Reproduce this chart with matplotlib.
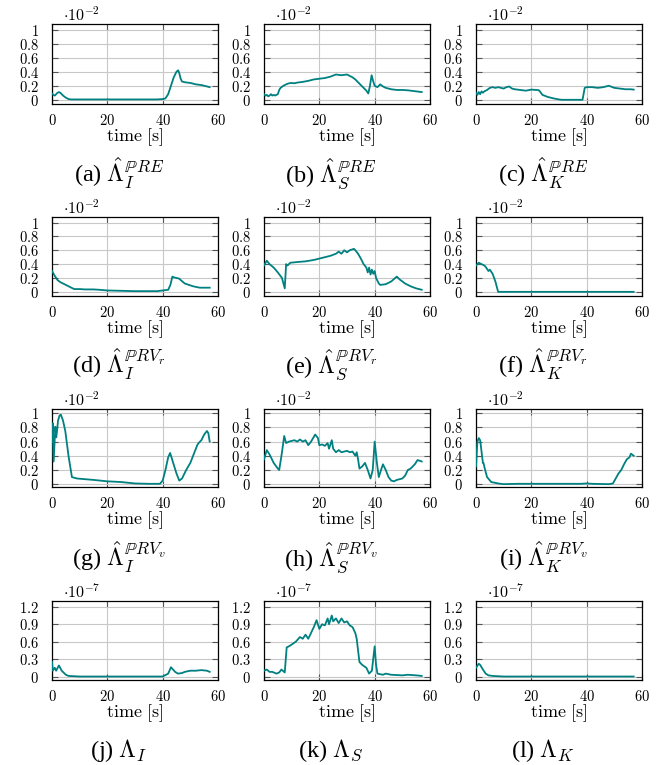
import matplotlib
matplotlib.use('Agg')
import matplotlib.pyplot as plt
from matplotlib.ticker import FixedLocator, FixedFormatter
from matplotlib.transforms import offset_copy

plt.rcParams['mathtext.fontset'] = 'cm'
plt.rcParams['font.family'] = ['Liberation Serif', 'DejaVu Serif']

# ---------------- data ----------------
xticks = [0, 20, 40, 60]
xtick_labels = ['0', '20', '40', '60']
yticks_hat = [0, 0.2, 0.4, 0.6, 0.8, 1.0]
ytick_labels_hat = ['0', '0.2', '0.4', '0.6', '0.8', '1']
yticks_lam = [0, 0.3, 0.6, 0.9, 1.2]
ytick_labels_lam = ['0', '0.3', '0.6', '0.9', '1.2']

captions = [
    r'(a) $\hat{\Lambda}_I^{\mathbb{P}RE}$',
    r'(b) $\hat{\Lambda}_S^{\mathbb{P}RE}$',
    r'(c) $\hat{\Lambda}_K^{\mathbb{P}RE}$',
    r'(d) $\hat{\Lambda}_I^{\mathbb{P}RV_r}$',
    r'(e) $\hat{\Lambda}_S^{\mathbb{P}RV_r}$',
    r'(f) $\hat{\Lambda}_K^{\mathbb{P}RV_r}$',
    r'(g) $\hat{\Lambda}_I^{\mathbb{P}RV_v}$',
    r'(h) $\hat{\Lambda}_S^{\mathbb{P}RV_v}$',
    r'(i) $\hat{\Lambda}_K^{\mathbb{P}RV_v}$',
    r'(j) $\Lambda_I$',
    r'(k) $\Lambda_S$',
    r'(l) $\Lambda_K$',
]
exponents = ['-2', '-2', '-2', '-2', '-2', '-2', '-2', '-2', '-2', '-7', '-7', '-7']

t_a = [0, 0.5, 1, 1.5, 2, 2.5, 3, 3.5, 4, 5, 6, 7, 10, 20, 30, 38, 40, 41, 42, 43, 44, 45, 45.6, 46, 46.5, 47, 48, 50, 52, 54, 55, 56, 57]
y_a = [0.09, 0.07, 0.06, 0.08, 0.1, 0.11, 0.1, 0.08, 0.06, 0.03, 0.01, 0.005, 0.005, 0.005, 0.005, 0.005, 0.01, 0.02, 0.08, 0.2, 0.32, 0.4, 0.42, 0.38, 0.3, 0.26, 0.25, 0.24, 0.22, 0.21, 0.2, 0.19, 0.18]

t_b = [0, 0.5, 1, 1.5, 2, 2.5, 3, 3.5, 4, 4.5, 5, 5.5, 6, 7, 8, 9, 10, 11, 12, 13, 14, 16, 18, 20, 22, 24, 26, 27, 28, 29, 30, 31, 32, 33, 34, 35, 36, 37, 37.7, 38.3, 38.9, 39.5, 40, 41, 42, 43, 44, 46, 48, 50, 52, 54, 56, 57]
y_b = [0.08, 0.06, 0.07, 0.05, 0.06, 0.08, 0.06, 0.07, 0.06, 0.07, 0.08, 0.14, 0.17, 0.2, 0.22, 0.235, 0.24, 0.235, 0.245, 0.25, 0.255, 0.27, 0.29, 0.3, 0.31, 0.33, 0.36, 0.355, 0.35, 0.355, 0.36, 0.34, 0.32, 0.29, 0.25, 0.21, 0.17, 0.13, 0.09, 0.2, 0.35, 0.26, 0.2, 0.18, 0.22, 0.19, 0.17, 0.15, 0.14, 0.14, 0.135, 0.125, 0.115, 0.11]

t_c = [0, 0.5, 1, 1.5, 2, 2.5, 3, 4, 5, 6, 7, 8, 9, 10, 11, 12, 13, 14, 16, 18, 20, 22, 22.8, 24, 26, 28, 30, 31, 34, 36, 38.5, 39.3, 40, 41, 42, 44, 46, 48, 50, 52, 54, 56, 57]
y_c = [0.1, 0.07, 0.11, 0.08, 0.12, 0.1, 0.12, 0.14, 0.17, 0.18, 0.17, 0.18, 0.17, 0.16, 0.18, 0.19, 0.16, 0.15, 0.14, 0.13, 0.145, 0.14, 0.135, 0.07, 0.04, 0.02, 0.005, 0.0, 0.0, 0.0, 0.0, 0.17, 0.18, 0.18, 0.18, 0.17, 0.18, 0.2, 0.17, 0.16, 0.15, 0.15, 0.145]

t_d = [0, 0.3, 1, 2, 3, 4, 5, 6, 7, 8, 10, 12, 15, 17, 20, 25, 30, 35, 38, 40, 41, 42, 42.8, 43.5, 44, 45, 46, 46.8, 48, 51, 53.4, 56.4, 57]
y_d = [0.3, 0.28, 0.23, 0.17, 0.14, 0.12, 0.1, 0.08, 0.06, 0.04, 0.04, 0.035, 0.035, 0.03, 0.02, 0.015, 0.01, 0.01, 0.01, 0.02, 0.025, 0.03, 0.1, 0.22, 0.21, 0.2, 0.19, 0.16, 0.12, 0.08, 0.06, 0.06, 0.06]

t_e = [0, 1, 2, 3.5, 5, 6.5, 7.5, 8, 8.5, 9.5, 12, 15, 18, 20, 22, 24, 26, 27, 28, 29, 30, 31, 32.5, 33, 34, 35, 36, 37, 37.5, 38, 38.5, 39, 39.5, 40, 40.5, 41.5, 42, 44, 46, 48, 49, 51, 53, 55, 57]
y_e = [0.38, 0.45, 0.4, 0.35, 0.28, 0.2, 0.05, 0.4, 0.38, 0.42, 0.43, 0.44, 0.46, 0.48, 0.5, 0.52, 0.55, 0.58, 0.55, 0.6, 0.57, 0.6, 0.62, 0.6, 0.55, 0.48, 0.4, 0.35, 0.28, 0.35, 0.25, 0.32, 0.26, 0.3, 0.2, 0.12, 0.1, 0.11, 0.15, 0.22, 0.18, 0.12, 0.08, 0.05, 0.03]

t_f = [0, 1, 2, 3, 3.5, 4.5, 5, 6, 7, 8, 20, 40, 57]
y_f = [0.38, 0.42, 0.4, 0.38, 0.36, 0.3, 0.32, 0.26, 0.15, 0.0, 0.0, 0.0, 0.0]

t_g = [0, 0.24, 0.6, 1.2, 1.56, 2.2, 2.76, 3.2, 3.96, 4.8, 6, 7.2, 9, 15, 20, 25, 30, 35, 39, 40, 41, 42, 42.7, 43.8, 45, 46, 47, 48.5, 50, 51.5, 52.5, 53, 54, 55, 56, 56.5, 57]
y_g = [0.6, 0.86, 0.32, 0.81, 0.66, 0.9, 0.97, 0.98, 0.9, 0.75, 0.39, 0.1, 0.08, 0.06, 0.04, 0.03, 0.01, 0.005, 0.005, 0.05, 0.2, 0.38, 0.44, 0.3, 0.15, 0.05, 0.08, 0.2, 0.3, 0.45, 0.55, 0.58, 0.62, 0.7, 0.75, 0.72, 0.6]

t_h = [0, 1, 2, 3.5, 5, 5.5, 6.5, 7.3, 8, 9, 11, 12, 13, 14, 15, 16, 17, 18.5, 19.5, 20, 21, 22, 23, 23.5, 24.5, 25, 26, 27, 28, 30, 31, 32, 33, 33.5, 34, 34.5, 35.5, 36.5, 37.5, 38.5, 39.3, 40, 40.8, 41.5, 42.3, 43, 44, 45, 46, 47, 48, 50, 51, 52, 53, 54.5, 55.5, 57]
y_h = [0.35, 0.48, 0.42, 0.3, 0.22, 0.2, 0.45, 0.68, 0.58, 0.6, 0.62, 0.6, 0.63, 0.6, 0.62, 0.55, 0.6, 0.7, 0.65, 0.55, 0.56, 0.54, 0.58, 0.5, 0.62, 0.5, 0.45, 0.48, 0.45, 0.47, 0.45, 0.46, 0.4, 0.45, 0.35, 0.22, 0.25, 0.3, 0.2, 0.08, 0.2, 0.6, 0.3, 0.1, 0.2, 0.28, 0.2, 0.1, 0.05, 0.04, 0.06, 0.08, 0.12, 0.2, 0.22, 0.28, 0.34, 0.32]

t_i = [0, 0.5, 1, 1.5, 2.5, 2.7, 3.3, 4, 5.5, 8, 10, 15, 25, 38, 40, 42, 48, 49.5, 50.5, 51.5, 52.5, 53.5, 54.5, 55.5, 56, 57]
y_i = [0.25, 0.6, 0.65, 0.62, 0.3, 0.3, 0.2, 0.1, 0.03, 0.01, 0.0, 0.005, 0.005, 0.005, 0.01, 0.005, 0.0, 0.01, 0.08, 0.15, 0.2, 0.28, 0.35, 0.38, 0.43, 0.4]

t_j = [0, 0.3, 1, 1.5, 2.5, 3.5, 5, 6, 10, 20, 30, 40, 42, 43, 44.5, 45.5, 47, 48, 50, 52, 54, 56, 57]
y_j = [0.25, 0.1, 0.15, 0.1, 0.19, 0.1, 0.03, 0.01, 0.0, 0.0, 0.0, 0.0, 0.05, 0.16, 0.08, 0.05, 0.06, 0.08, 0.1, 0.1, 0.11, 0.1, 0.08]

t_k = [0, 1, 2, 3, 4.5, 5.5, 6.3, 7.5, 8.2, 9, 10, 11.5, 13, 14, 15, 16, 17, 18, 19, 20, 21, 22, 23, 23.5, 24.5, 25, 26, 27, 28, 29, 30, 31, 32, 33, 33.5, 34, 34.5, 35.5, 37, 38, 39, 40, 40.5, 41, 43, 44, 46, 50, 52, 55, 57]
y_k = [0.1, 0.12, 0.08, 0.08, 0.05, 0.07, 0.12, 0.07, 0.5, 0.52, 0.55, 0.6, 0.68, 0.65, 0.72, 0.65, 0.75, 0.85, 0.97, 0.82, 0.9, 0.88, 1.0, 0.9, 1.05, 0.95, 1.0, 0.92, 1.0, 0.93, 0.95, 0.88, 0.85, 0.75, 0.65, 0.45, 0.25, 0.2, 0.15, 0.05, 0.1, 0.52, 0.2, 0.05, 0.03, 0.05, 0.03, 0.02, 0.03, 0.02, 0.01]

t_l = [0, 1, 1.5, 2.5, 3.5, 4.5, 6, 10, 30, 57]
y_l = [0.15, 0.22, 0.2, 0.12, 0.05, 0.02, 0.01, 0.0, 0.0, 0.0]

series = [(t_a, y_a), (t_b, y_b), (t_c, y_c), (t_d, y_d), (t_e, y_e), (t_f, y_f),
          (t_g, y_g), (t_h, y_h), (t_i, y_i), (t_j, y_j), (t_k, y_k), (t_l, y_l)]

# ---------------- layout ----------------
W, H = 665, 765
fig = plt.figure(figsize=(W / 100, H / 100), dpi=100)

col_left = [52, 264, 476]
col_w = 166
row_top = [24, 217, 409, 601]
row_h = [80, 79, 78, 79]
row_ylim = [(-0.06, 1.08), (-0.06, 1.08), (-0.04, 1.06), (-0.06, 1.3)]
cap_x = [119, 331, 543]
cap_y = [183, 374, 567, 757]

teal = '#008080'

for idx, (tt, yy) in enumerate(series):
    r, c = divmod(idx, 3)
    left, top, h = col_left[c], row_top[r], row_h[r]
    ax = fig.add_axes([left / W, 1 - (top + h) / H, col_w / W, h / H])
    ax.plot(tt, yy, color=teal, lw=1.3, zorder=3)
    ax.set_xlim(0, 60)
    ax.set_ylim(*row_ylim[r])
    ax.xaxis.set_major_locator(FixedLocator(xticks))
    ax.xaxis.set_major_formatter(FixedFormatter(['$%s$' % s for s in xtick_labels]))
    if r < 3:
        yt, yl = yticks_hat, ytick_labels_hat
    else:
        yt, yl = yticks_lam, ytick_labels_lam
    ax.yaxis.set_major_locator(FixedLocator(yt))
    ax.yaxis.set_major_formatter(FixedFormatter(['$%s$' % s for s in yl]))
    ax.tick_params(direction='in', top=True, right=True, length=4, width=0.8,
                   color='#555555', labelsize=10.5)
    ax.tick_params(axis='x', pad=6.5)
    ax.tick_params(axis='y', pad=9.5)
    ax.grid(True, color='#c8c8c8', linewidth=0.8)
    ax.set_axisbelow(True)
    for sp in ax.spines.values():
        sp.set_linewidth(0.9)
        sp.set_color('black')
    ax.set_xlabel(r'$\mathrm{time\ [s]}$', fontsize=13, va='top')
    ax.xaxis.set_label_coords(0.5, -22.0 / h)
    ax.text(0.066, 1.0, r'$\cdot 10^{%s}$' % exponents[idx],
            transform=offset_copy(ax.transAxes, fig=fig, y=3, units='dots'),
            ha='left', va='baseline', fontsize=11.5)
    fig.text(cap_x[c] / W, 1 - cap_y[r] / H, captions[idx], ha='center',
             va='baseline', fontsize=17.5)

fig.savefig('out.png', dpi=100)
